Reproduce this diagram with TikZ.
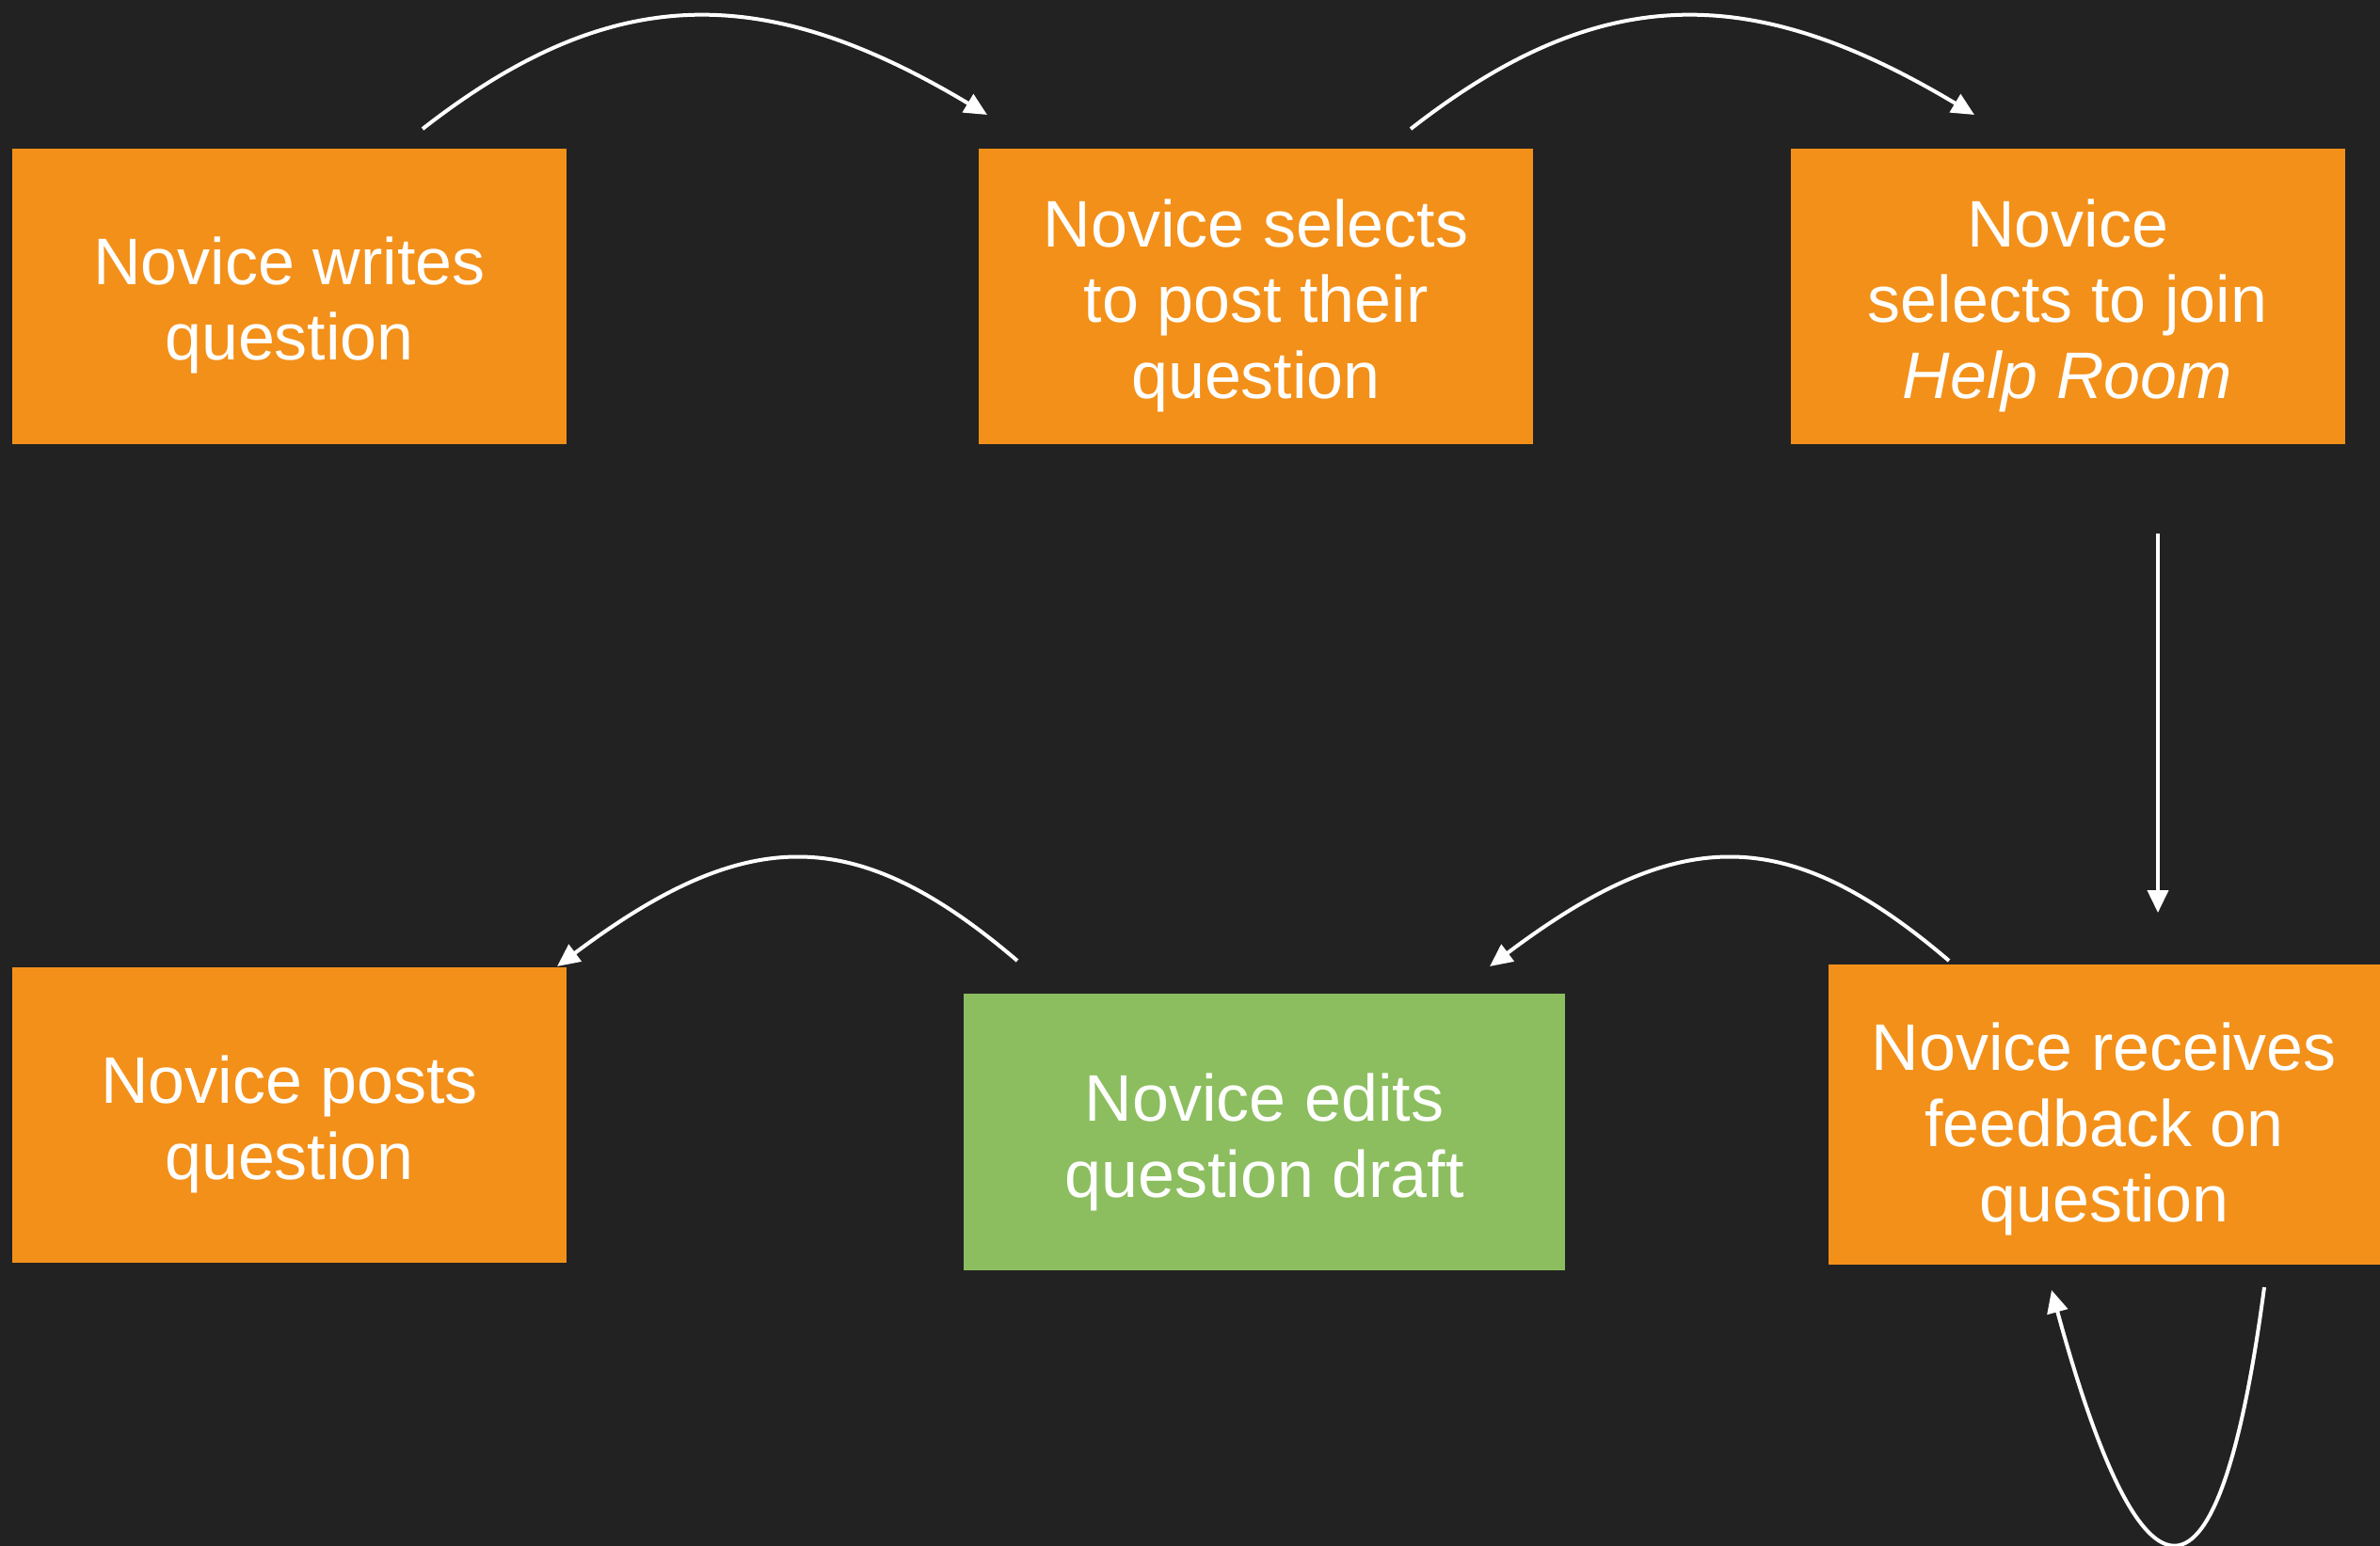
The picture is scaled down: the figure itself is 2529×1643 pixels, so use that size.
\documentclass[tikz,border=0pt]{standalone}
\usepackage{fontspec}
\setmainfont{Liberation Sans}
\usetikzlibrary{arrows.meta}
\definecolor{bg}{HTML}{222222}
\definecolor{boxor}{HTML}{F39019}
\definecolor{boxgr}{HTML}{8CBE5F}
\newcommand{\lowertext}[1]{\rule{0pt}{#1}}
\begin{document}
\begin{tikzpicture}[x=1pt,y=-1pt,
  stepbox/.style={rectangle, inner sep=0pt, outer sep=0pt, text=white, align=center,
    font=\fontsize{70}{80.5}\selectfont},
  orangebox/.style={stepbox, fill=boxor},
  greenbox/.style={stepbox, fill=boxgr},
  flow/.style={draw=white, line width=4pt, -{Triangle[length=24pt,width=22pt]}}]
\fill[bg] (0,0) rectangle (2529,1643);
\useasboundingbox (0,0) rectangle (2529,1643);

\node[orangebox, minimum width=589pt, minimum height=314pt] (n1) at (307.5,315) {\lowertext{70pt}Novice writes\\question};
\node[orangebox, minimum width=589pt, minimum height=314pt] (n2) at (1334.5,315) {\lowertext{70pt}Novice selects\\to post their\\question};
\node[orangebox, minimum width=589pt, minimum height=314pt] (n3) at (2197,315) {\lowertext{70pt}Novice\\selects to join\\\textit{Help Room}};
\node[orangebox, minimum width=586pt, minimum height=319pt] (n6) at (2236,1184.5) {\lowertext{82pt}Novice receives\\feedback on\\question};
\node[greenbox, minimum width=639pt, minimum height=294pt] (n5) at (1343.5,1203) {\lowertext{72pt}Novice edits\\question draft};
\node[orangebox, minimum width=589pt, minimum height=314pt] (n4) at (307.5,1185) {\lowertext{70pt}Novice posts\\question};

\coordinate (a1s) at (449,137);
\coordinate (a1e) at (1049,122);
\coordinate (a2s) at (1499,137);
\coordinate (a2e) at (2098,122);
\coordinate (a3s) at (2293,567);
\coordinate (a3e) at (2293,970);
\coordinate (a4s) at (2071,1021);
\coordinate (a4e) at (1583,1027);
\coordinate (a5s) at (1081,1021);
\coordinate (a5e) at (592,1027);
\coordinate (a6s) at (2406,1368);
\coordinate (a6e) at (2180,1371);

\draw[flow] (a1s) .. controls (650,-20) and (812,-20) .. (a1e);
\draw[flow] (a2s) .. controls (1700,-20) and (1861,-20) .. (a2e);
\draw[flow] (a3s) -- (a3e);
\draw[flow] (a4s) .. controls (1900,875) and (1785,875) .. (a4e);
\draw[flow] (a5s) .. controls (910,875) and (795,875) .. (a5e);
\draw[flow] (a6s) .. controls (2358,1730) and (2278,1730) .. (a6e);
\end{tikzpicture}
\end{document}
